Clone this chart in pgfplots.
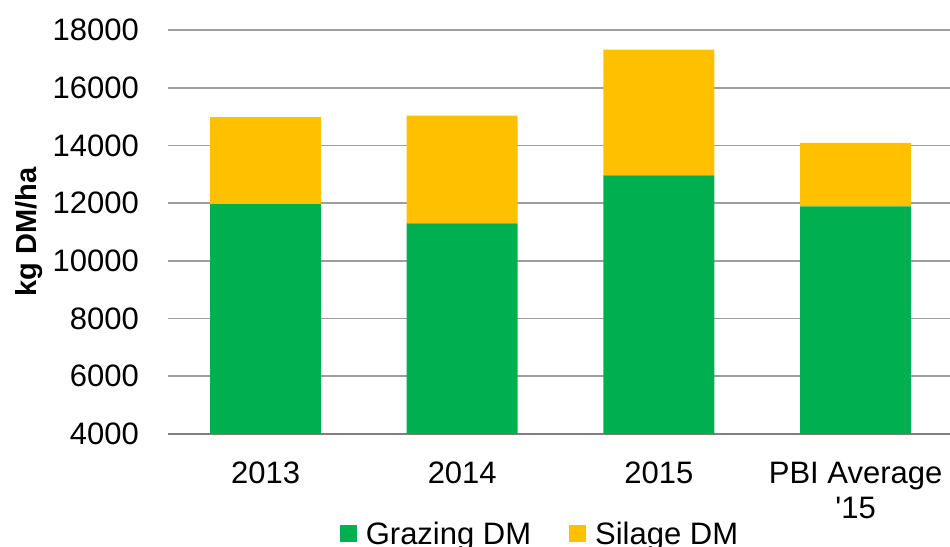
\documentclass[border=0pt]{standalone}
\usepackage{pgfplots}
\pgfplotsset{compat=1.18}
\usepackage{fontspec}
\setmainfont{Liberation Sans}
\usetikzlibrary{calc}
\definecolor{grz}{HTML}{00B050}
\definecolor{sil}{HTML}{FFC000}
\begin{document}
\begin{tikzpicture}
\begin{axis}[
  scale only axis, width=782bp, height=404bp,
  ybar stacked, bar width=111bp,
  xmin=-0.496, xmax=3.48, ymin=4000, ymax=18000,
  xtick={0,1,2,3},
  xticklabels={2013,2014,2015,{PBI Average\\\textquotesingle15}},
  xticklabel style={align=center, font=\fontsize{31bp}{35bp}\selectfont, inner sep=0pt, yshift=-28bp},
  ytick={4000,6000,...,18000},
  scaled y ticks=false,
  yticklabel style={font=\fontsize{31bp}{35bp}\selectfont, inner sep=0pt, xshift=-29bp},
  /pgf/number format/assume math mode=true,
  /pgf/number format/1000 sep={},
  ymajorgrids, grid style={draw=black!38, line width=1.6bp},
  axis x line*=bottom, axis y line*=left,
  y axis line style={draw=none},
  x axis line style={draw=black!50, line width=2.2bp},
  major tick length=0pt,
  ylabel={\textbf{kg DM/ha}},
  ylabel style={font=\fontsize{29bp}{33bp}\selectfont, at={(axis description cs:-0.178,0.5)}, anchor=center},
  legend style={at={(axis description cs:0.4757,-0.207)}, anchor=north, draw=none,
    font=\fontsize{31bp}{35bp}\selectfont, legend columns=2,
    /tikz/every even column/.append style={column sep=36bp}},
  legend image code/.code={\fill[#1] (0bp,-8.5bp) rectangle (17bp,8.5bp); \path (0bp,0bp) (24bp,0bp);},
]
\addplot[fill=grz, draw=none] coordinates {(0,11970) (1,11300) (2,12960) (3,11890)};
\addplot[fill=sil, draw=none] coordinates {(0,3010) (1,3730) (2,4360) (3,2200)};
\legend{Grazing DM, Silage DM}
\end{axis}
\pgfresetboundingbox
\path ($(current axis.south west)+(-168bp,-113bp)$) rectangle ($(current axis.north east)+(0bp,30bp)$);
\end{tikzpicture}
\end{document}
